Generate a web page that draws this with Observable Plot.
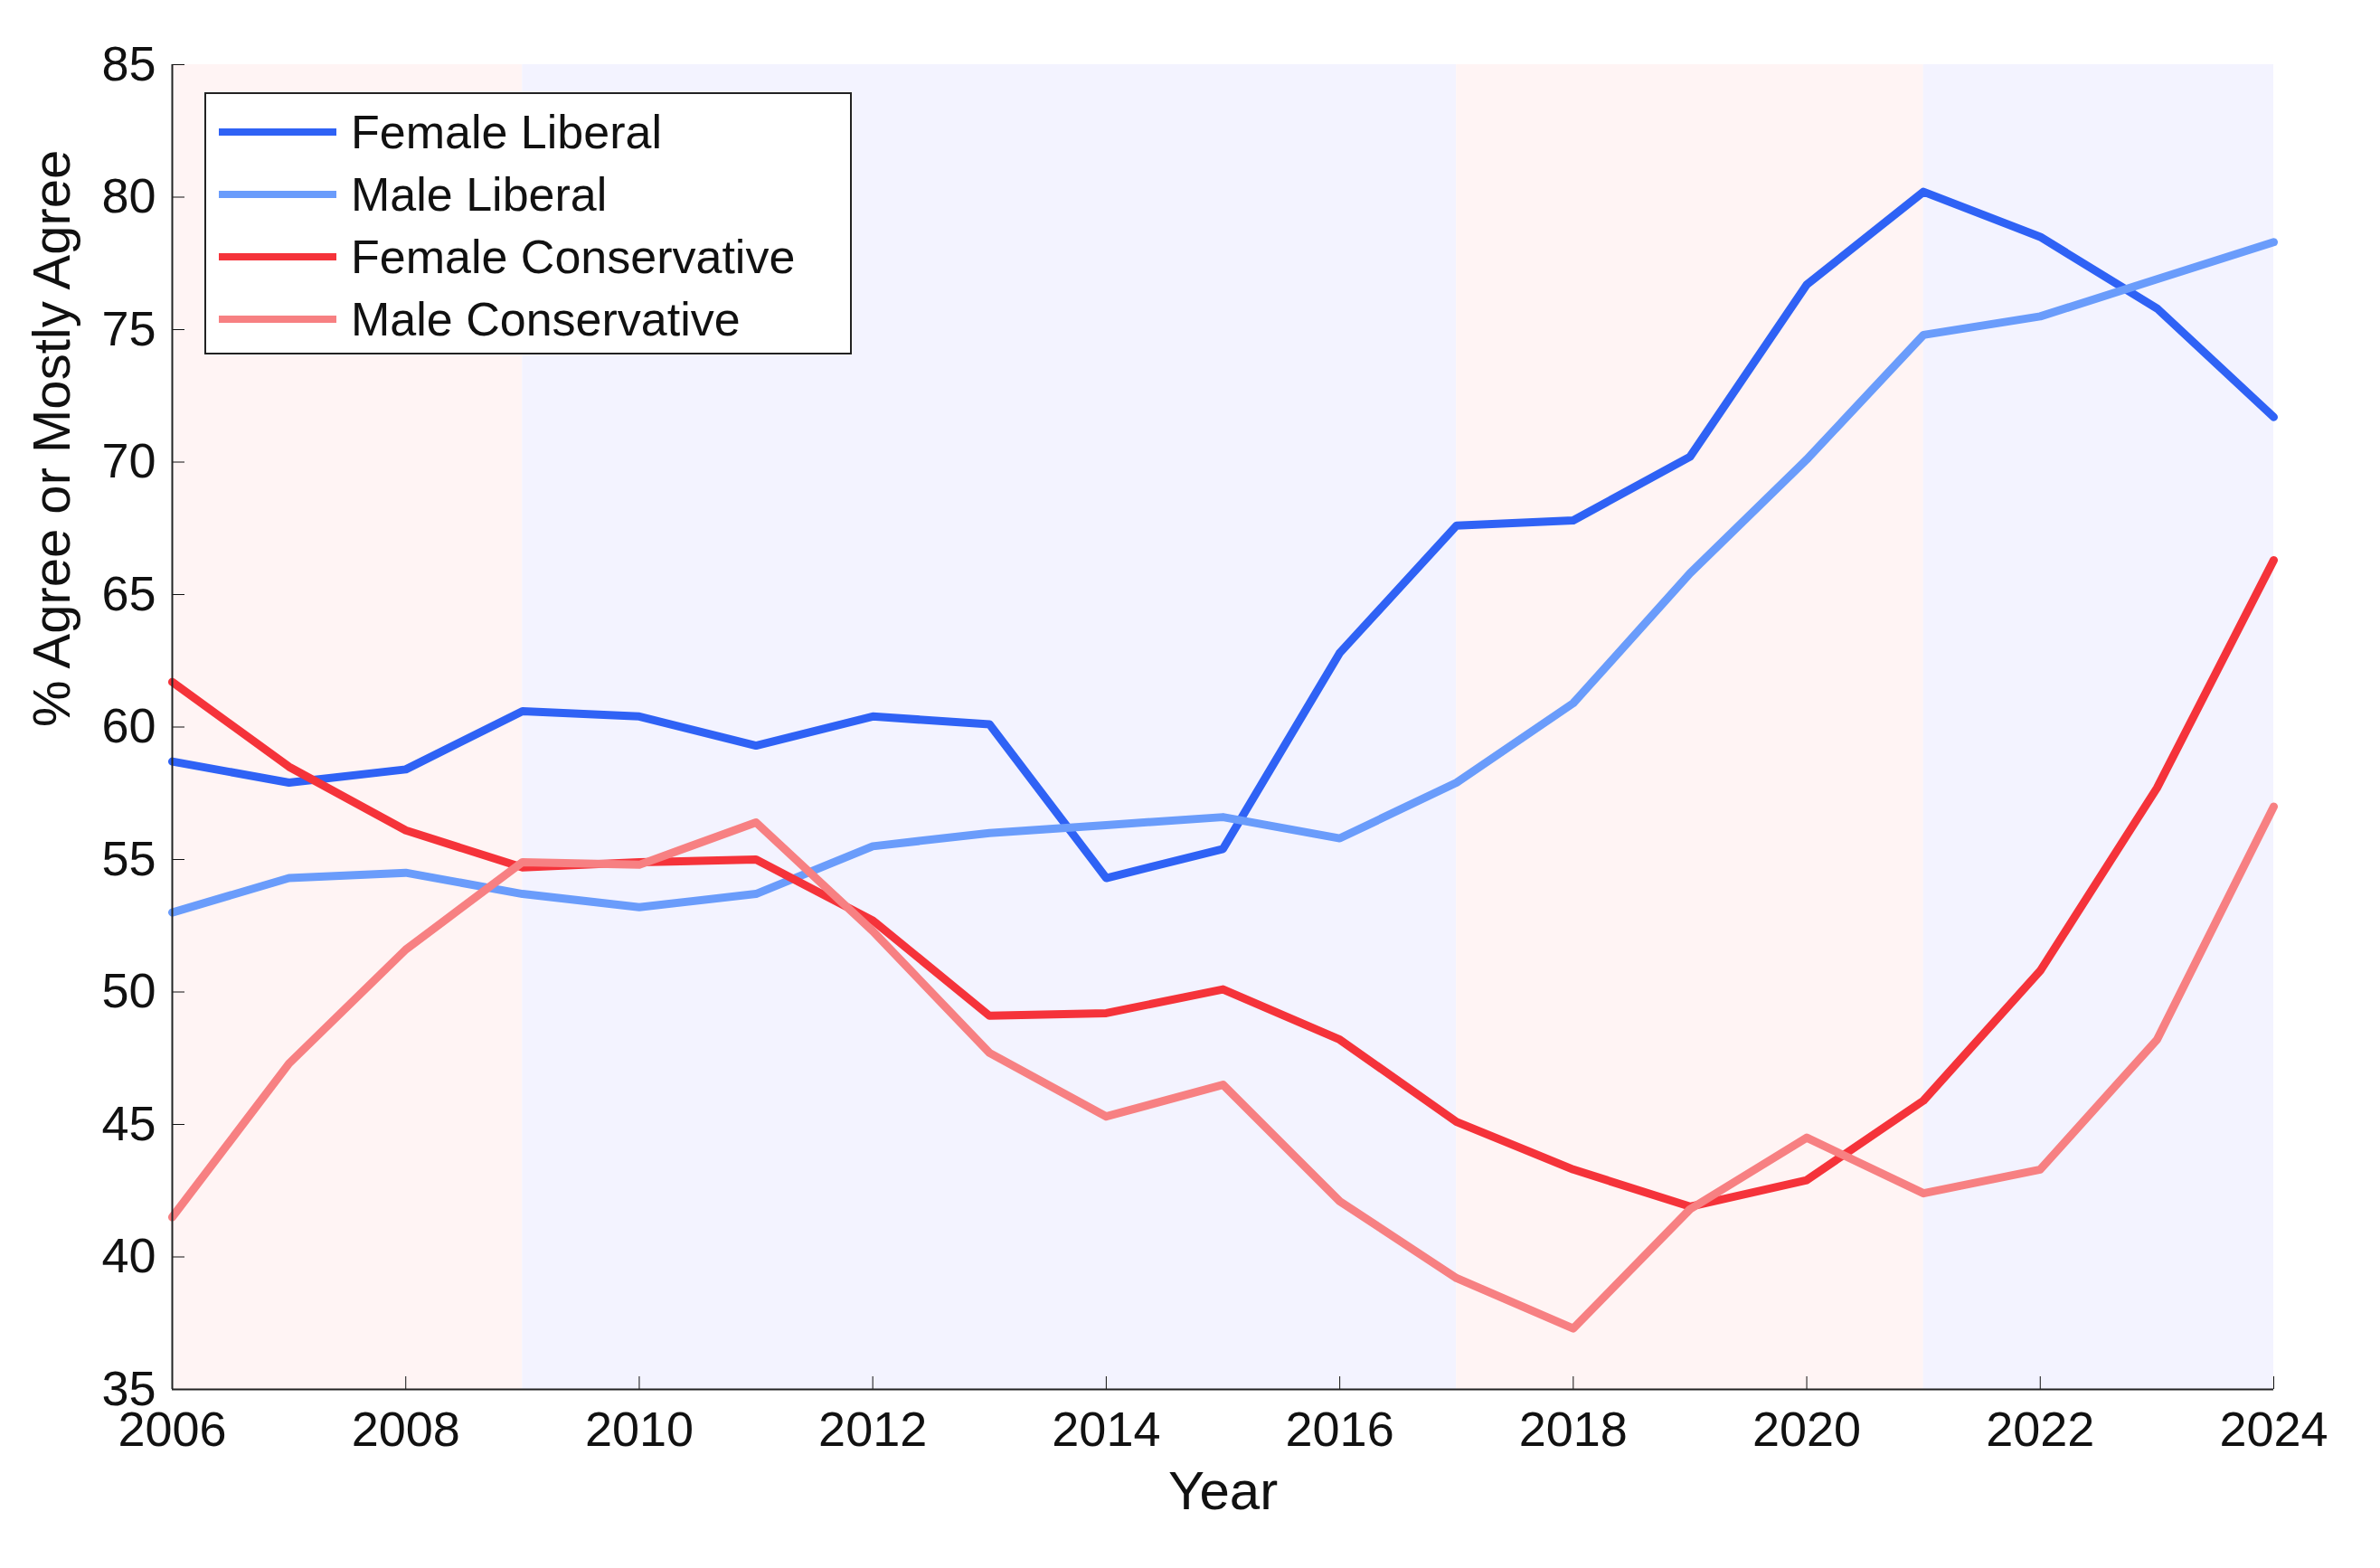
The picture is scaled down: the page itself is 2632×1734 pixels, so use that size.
<!DOCTYPE html><html><head><meta charset="utf-8">
<script src="https://cdn.jsdelivr.net/npm/d3@7"></script>
<script src="https://cdn.jsdelivr.net/npm/@observablehq/plot@0.6"></script>
<style>body{margin:0;background:#fff;font-family:"Liberation Sans",Arial,sans-serif}#c{position:relative;width:2632px;height:1734px}
#leg{position:absolute;left:226px;top:102px;width:716px;height:290px;border:2px solid #222;background:#fff;box-sizing:border-box;font-size:52px;color:#111}
.r{position:absolute;left:14px;height:60px;display:flex;align-items:center}.r span{display:inline-block;width:130px;height:8px;margin-right:16px}</style></head><body><div id="c"></div>
<script>
const years=d3.range(2006,2025);
const femaleLiberal=[58.7,57.9,58.4,60.6,60.4,59.3,60.4,60.1,54.3,55.4,62.8,67.6,67.8,70.2,76.7,80.2,78.5,75.8,71.7];
const maleLiberal=[53.0,54.3,54.5,53.7,53.2,53.7,55.5,56.0,56.3,56.6,55.8,57.9,60.9,65.8,70.1,74.8,75.5,76.9,78.3];
const femaleConservative=[61.7,58.5,56.1,54.7,54.9,55.0,52.7,49.1,49.2,50.1,48.2,45.1,43.3,41.9,42.9,45.9,50.8,57.7,66.3];
const maleConservative=[41.5,47.3,51.6,54.9,54.8,56.4,52.3,47.7,45.3,46.5,42.1,39.2,37.3,41.8,44.5,42.4,43.3,48.2,57.0];
const seriesNames=["Female Liberal","Male Liberal","Female Conservative","Male Conservative"];
const seriesColors=["#2f62f5","#6a9cfb","#f5333a","#f78082"];
const periods=[{a:2006,b:2009,p:"R"},{a:2009,b:2017,p:"D"},{a:2017,b:2021,p:"R"},{a:2021,b:2024,p:"D"}];
const vals=[femaleLiberal,maleLiberal,femaleConservative,maleConservative];
const data=vals.flatMap((v,i)=>v.map((y,j)=>({year:years[j],value:y,s:seriesNames[i]})));
const fs=54;
const plot=Plot.plot({width:2632,height:1734,marginLeft:190,marginRight:118,marginTop:71,marginBottom:198,
style:{fontFamily:"Liberation Sans, Arial, sans-serif",fontSize:fs+"px",color:"#111"},
x:{domain:[2006,2024]},y:{domain:[35,85]},
color:{domain:seriesNames,range:seriesColors},
marks:[
Plot.rectY(periods,{x1:"a",x2:"b",y1:35,y2:85,fill:d=>d.p=="R"?"#fff4f4":"#f3f3ff"}),
Plot.line(data,{x:"year",y:"value",stroke:"s",strokeWidth:9}),
Plot.axisX({ticks:d3.range(2006,2025,2),tickFormat:d=>String(d),tickSize:-14,tickPadding:38,label:null,fontSize:fs}),
Plot.axisY({ticks:d3.range(35,86,5),tickSize:-14,tickPadding:32,label:null,fontSize:fs}),
Plot.ruleX([2006],{stroke:"#222",strokeWidth:2}),
Plot.ruleY([35],{stroke:"#222",strokeWidth:2}),
Plot.text(["Year"],{frameAnchor:"bottom",dy:132,fontSize:60}),
Plot.text(["% Agree or Mostly Agree"],{frameAnchor:"left",rotate:-90,dx:-132,fontSize:58})
]});
document.getElementById("c").appendChild(plot);
const leg=document.createElement("div");leg.id="leg";
seriesNames.forEach((n,i)=>{const r=document.createElement("div");r.className="r";r.style.top=(12+i*69)+"px";r.innerHTML=`<span style="background:${seriesColors[i]}"></span>${n}`;leg.appendChild(r)});
document.getElementById("c").appendChild(leg);
</script></body></html>
